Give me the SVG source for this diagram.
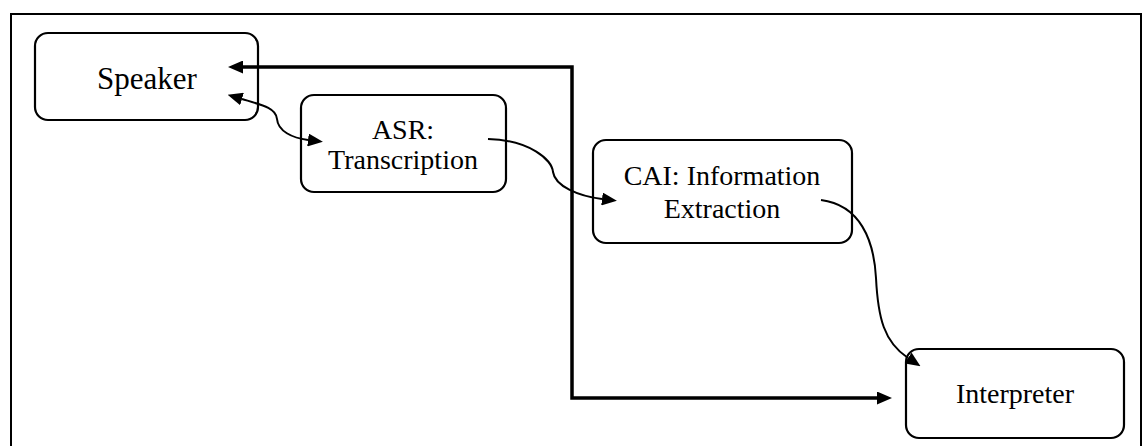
<svg xmlns="http://www.w3.org/2000/svg" width="1147" height="446" viewBox="0 0 1147 446">
  <style>
    .box { fill: #ffffff; stroke: #000000; stroke-width: 2.2; }
    .lbl { font-family: "Liberation Serif", "Times New Roman", serif; font-size: 28px; fill: #000000; text-anchor: middle; }
    .big { font-size: 31px; }
    .thin { fill: none; stroke: #000000; stroke-width: 2; }
    .thick { fill: none; stroke: #000000; stroke-width: 3.5; }
  </style>
  <defs>
    <marker id="ah" viewBox="0 0 15 13" refX="0" refY="6.5" markerWidth="15" markerHeight="13" markerUnits="userSpaceOnUse" orient="auto-start-reverse">
      <path d="M0,0 L15,6.5 L0,13 z" fill="#000000"/>
    </marker>
  </defs>
  <rect x="0" y="0" width="1147" height="446" fill="#ffffff"/>
  <g id="frame">
    <rect x="11" y="14" width="1130" height="460" fill="none" stroke="#000000" stroke-width="2"/>
  </g>
  <g id="speaker">
    <rect class="box" x="35" y="33" width="223" height="87" rx="13"/>
    <text class="lbl big" x="147" y="89">Speaker</text>
  </g>
  <g id="asr">
    <rect class="box" x="301" y="95" width="205" height="97" rx="13"/>
    <text class="lbl" x="403" y="139">ASR:</text>
    <text class="lbl" x="403" y="169">Transcription</text>
  </g>
  <g id="cai">
    <rect class="box" x="593" y="140" width="259" height="103" rx="13"/>
    <text class="lbl" x="722" y="185">CAI: Information</text>
    <text class="lbl" x="722" y="218">Extraction</text>
  </g>
  <g id="interpreter">
    <rect class="box" x="906" y="349" width="218" height="89" rx="13"/>
    <text class="lbl" x="1015" y="403">Interpreter</text>
  </g>
  <g id="connectors">
    <path class="thick" d="M243 67 H572 V398 H877" marker-start="url(#ah)" marker-end="url(#ah)"/>
    <path class="thin" d="M242 99 C262 105, 276 108, 277 119 C278 131, 292 138, 308 140" marker-start="url(#ah)" marker-end="url(#ah)"/>
    <path class="thin" d="M488 139 C530 140, 552 160, 553 172 C555 186, 578 196, 602 199" marker-end="url(#ah)"/>
    <path class="thin" d="M821 200 C860 205, 874 240, 876 278 C878 318, 884 342, 908 358" marker-end="url(#ah)"/>
  </g>
</svg>
